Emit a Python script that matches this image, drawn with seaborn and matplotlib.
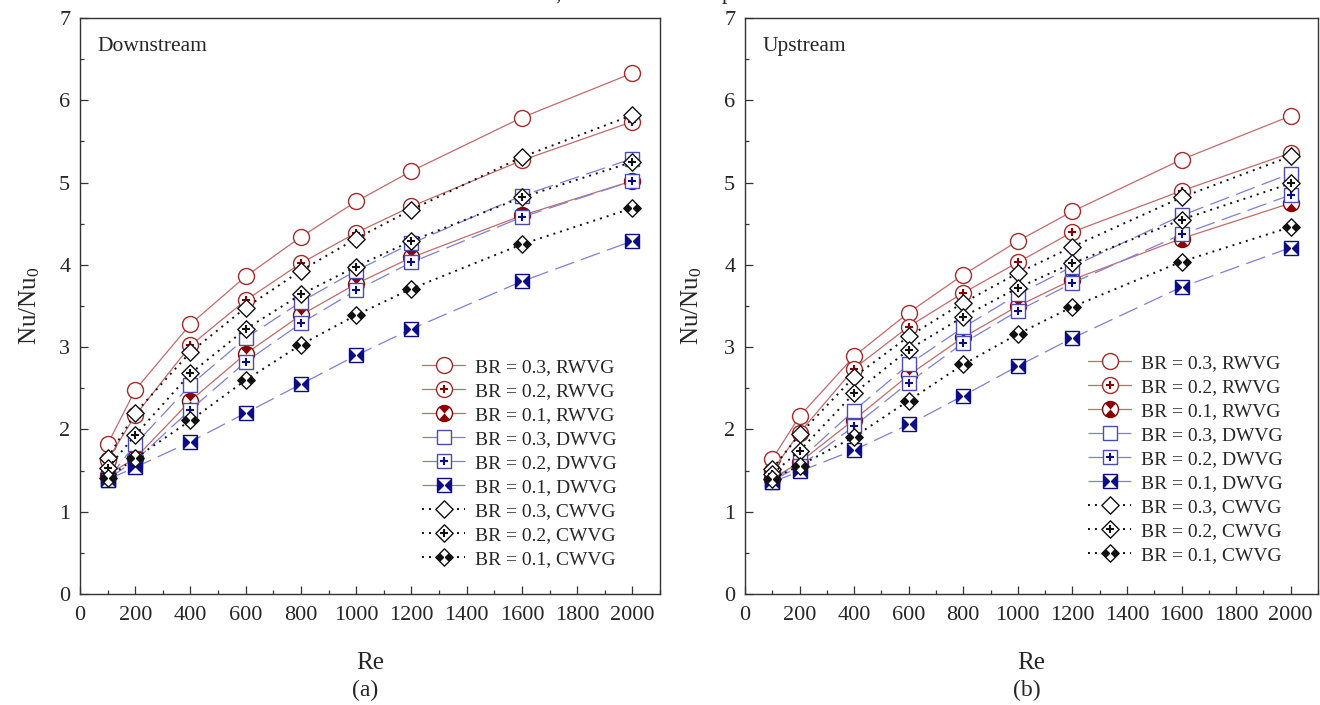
import numpy as np
import matplotlib
matplotlib.use("Agg")
import matplotlib.pyplot as plt
from matplotlib.path import Path
from matplotlib.lines import Line2D
from matplotlib.ticker import MultipleLocator
import seaborn as sns

# Reynolds numbers
re_vals = [100, 200, 400, 600, 800, 1000, 1200, 1600, 2000]

# Downstream Nu/Nu0
down_rwvg_03 = [1.82, 2.48, 3.28, 3.86, 4.34, 4.77, 5.14, 5.79, 6.33]
down_rwvg_02 = [1.63, 2.17, 3.02, 3.57, 4.02, 4.39, 4.71, 5.27, 5.74]
down_rwvg_01 = [1.45, 1.65, 2.35, 2.92, 3.39, 3.77, 4.09, 4.60, 5.02]
down_dwvg_03 = [1.39, 1.82, 2.54, 3.11, 3.55, 3.93, 4.26, 4.84, 5.29]
down_dwvg_02 = [1.40, 1.62, 2.24, 2.82, 3.29, 3.69, 4.03, 4.58, 5.02]
down_dwvg_01 = [1.39, 1.54, 1.85, 2.20, 2.55, 2.90, 3.22, 3.80, 4.29]
down_cwvg_03 = [1.65, 2.20, 2.94, 3.48, 3.93, 4.32, 4.67, 5.31, 5.82]
down_cwvg_02 = [1.53, 1.93, 2.68, 3.22, 3.64, 3.98, 4.29, 4.82, 5.25]
down_cwvg_01 = [1.41, 1.65, 2.11, 2.60, 3.03, 3.39, 3.71, 4.25, 4.69]

# Upstream Nu/Nu0
up_rwvg_03 = [1.64, 2.16, 2.89, 3.42, 3.88, 4.29, 4.65, 5.28, 5.81]
up_rwvg_02 = [1.50, 1.96, 2.74, 3.25, 3.66, 4.03, 4.40, 4.90, 5.36]
up_rwvg_01 = [1.40, 1.60, 2.12, 2.66, 3.12, 3.50, 3.82, 4.32, 4.75]
up_dwvg_03 = [1.36, 1.63, 2.23, 2.79, 3.24, 3.64, 3.98, 4.60, 5.11]
up_dwvg_02 = [1.38, 1.55, 2.04, 2.57, 3.05, 3.44, 3.78, 4.37, 4.85]
up_dwvg_01 = [1.36, 1.49, 1.75, 2.06, 2.41, 2.77, 3.11, 3.73, 4.21]
up_cwvg_03 = [1.52, 1.94, 2.64, 3.13, 3.54, 3.90, 4.22, 4.82, 5.32]
up_cwvg_02 = [1.46, 1.74, 2.44, 2.97, 3.37, 3.72, 4.02, 4.55, 4.99]
up_cwvg_01 = [1.40, 1.56, 1.91, 2.35, 2.79, 3.16, 3.49, 4.04, 4.46]

series_labels = ["BR = 0.3, RWVG", "BR = 0.2, RWVG", "BR = 0.1, RWVG",
                 "BR = 0.3, DWVG", "BR = 0.2, DWVG", "BR = 0.1, DWVG",
                 "BR = 0.3, CWVG", "BR = 0.2, CWVG", "BR = 0.1, CWVG"]
panel_titles = ["Downstream", "Upstream"]
panel_tags = ["(a)", "(b)"]

sns.set_style("ticks")
plt.rcParams["font.family"] = ["Liberation Serif", "DejaVu Serif"]
plt.rcParams["mathtext.fontset"] = "custom"
plt.rcParams["mathtext.rm"] = "Liberation Serif"
plt.rcParams["mathtext.it"] = "Liberation Serif:italic"
plt.rcParams["mathtext.default"] = "regular"


# ---- custom marker shapes -------------------------------------------------
def _poly(points):
    pts = list(points) + [points[0]]
    codes = [Path.MOVETO] + [Path.LINETO] * (len(points) - 1) + [Path.CLOSEPOLY]
    return pts, codes


def compound(*polys):
    verts, codes = [], []
    for p in polys:
        v, c = _poly(p)
        verts += v
        codes += c
    return Path(verts, codes)


def caps(a0, a1):
    ang = np.deg2rad(np.linspace(a0, a1, 20))
    return [(0.0, 0.0)] + [(np.cos(a), np.sin(a)) for a in ang]


CIRCLE_CAPS = compound(caps(48, 132), caps(228, 312))
SQUARE_BOWTIE = compound([(-1, 1), (-1, -1), (0, 0)], [(1, 1), (1, -1), (0, 0)])
DIAMOND = compound([(0, 1), (1, 0), (0, -1), (-1, 0)])
DIAMOND_BOWTIE = compound([(-1, 0), (-0.5, 0.5), (0, 0), (-0.5, -0.5)],
                          [(1, 0), (0.5, 0.5), (0, 0), (0.5, -0.5)])

RED_LINE, RED_EDGE, RED_FILL = "#c46a6a", "#a52a2a", "#8b0000"
BLUE_LINE, BLUE_EDGE, BLUE_FILL = "#7f7fd8", "#4b4bb8", "#0c0c8a"
BLACK = "#111111"

red_ls = "-"
blue_ls = (0, (16, 6))
black_ls = (0, (1, 2.6))

# style per series: line colour, line style, line width, outline marker, size,
# outline edge colour, inner decoration ('plus' / fill path / None), inner colour
styles = [
    dict(lc=RED_LINE, ls=red_ls, lw=0.9, m="o", ms=11.5, ec=RED_EDGE, inner=None, ic=None),
    dict(lc=RED_LINE, ls=red_ls, lw=0.9, m="o", ms=11.5, ec=RED_EDGE, inner="plus", ic=RED_FILL),
    dict(lc=RED_LINE, ls=red_ls, lw=0.9, m="o", ms=11.5, ec=RED_FILL, inner=CIRCLE_CAPS, ic=RED_FILL),
    dict(lc=BLUE_LINE, ls=blue_ls, lw=0.9, m="s", ms=9.5, ec=BLUE_EDGE, inner=None, ic=None),
    dict(lc=BLUE_LINE, ls=blue_ls, lw=0.9, m="s", ms=9.5, ec=BLUE_EDGE, inner="plus", ic=BLUE_FILL),
    dict(lc=BLUE_LINE, ls=blue_ls, lw=0.9, m="s", ms=9.5, ec=BLUE_FILL, inner=SQUARE_BOWTIE, ic=BLUE_FILL),
    dict(lc=BLACK, ls=black_ls, lw=1.4, m=DIAMOND, ms=12.5, ec=BLACK, inner=None, ic=None),
    dict(lc=BLACK, ls=black_ls, lw=1.4, m=DIAMOND, ms=12.5, ec=BLACK, inner="plus", ic=BLACK),
    dict(lc=BLACK, ls=black_ls, lw=1.4, m=DIAMOND, ms=12.5, ec=BLACK, inner=DIAMOND_BOWTIE, ic=BLACK),
]

panels = [
    [down_rwvg_03, down_rwvg_02, down_rwvg_01, down_dwvg_03, down_dwvg_02,
     down_dwvg_01, down_cwvg_03, down_cwvg_02, down_cwvg_01],
    [up_rwvg_03, up_rwvg_02, up_rwvg_01, up_dwvg_03, up_dwvg_02,
     up_dwvg_01, up_cwvg_03, up_cwvg_02, up_cwvg_01],
]


def inner_kwargs(st):
    if st["inner"] == "plus":
        return dict(marker="+", markersize=5.5, markeredgewidth=1.5,
                    markeredgecolor=st["ic"], markerfacecolor=st["ic"])
    return dict(marker=st["inner"], markersize=st["ms"], markeredgewidth=0,
                markeredgecolor="none", markerfacecolor=st["ic"])


def draw_series(ax, y, st):
    sns.lineplot(x=re_vals, y=y, ax=ax, color=st["lc"], linewidth=st["lw"],
                 linestyle=st["ls"], marker=st["m"], markersize=st["ms"],
                 markerfacecolor="white", markeredgecolor=st["ec"],
                 markeredgewidth=1.0, errorbar=None, sort=False, legend=False)
    ax.lines[-1].set_linestyle(st["ls"])
    if st["inner"] is not None:
        sns.lineplot(x=re_vals, y=y, ax=ax, linestyle="none", errorbar=None,
                     sort=False, legend=False, color=st["ic"], **inner_kwargs(st))


def legend_handle(st):
    outer = Line2D([], [], color=st["lc"], linewidth=st["lw"], linestyle=st["ls"],
                   marker=st["m"], markersize=st["ms"], markerfacecolor="white",
                   markeredgecolor=st["ec"], markeredgewidth=1.0)
    if st["inner"] is None:
        return outer
    inner = Line2D([], [], linestyle="none", **inner_kwargs(st))
    return (outer, inner)


W, H = 1320, 705
fig = plt.figure(figsize=(W / 100, H / 100), dpi=100)

axes_px = [(80, 580), (745, 573)]
legend_anchor = [(0.925, 0.045), (0.938, 0.052)]
ylabel_x = [-0.066, -0.072]

for i, (x0, w) in enumerate(axes_px):
    ax = fig.add_axes([x0 / W, 1 - 594 / H, w / W, 576 / H])
    for y, st in zip(panels[i], styles):
        draw_series(ax, y, st)

    ax.set_xlim(0, 2100)
    ax.set_ylim(0, 7)
    ax.xaxis.set_major_locator(MultipleLocator(200))
    ax.xaxis.set_minor_locator(MultipleLocator(100))
    ax.yaxis.set_major_locator(MultipleLocator(1))
    ax.yaxis.set_minor_locator(MultipleLocator(0.5))
    ax.tick_params(which="both", direction="in", top=False, right=False,
                   color="#333333", width=0.9)
    ax.tick_params(which="major", length=6, labelsize=16, pad=9)
    ax.tick_params(axis="y", which="major", pad=7)
    ax.tick_params(which="minor", length=3)
    for sp in ax.spines.values():
        sp.set_visible(True)
        sp.set_color("#333333")
        sp.set_linewidth(1.0)

    ax.set_xlabel("Re", fontsize=18)
    ax.xaxis.set_label_coords(0.5, -0.100)
    ax.set_ylabel(r"Nu/Nu$_0$", fontsize=18)
    ax.yaxis.set_label_coords(ylabel_x[i], 0.5)

    ax.text(0.03, 0.95, panel_titles[i], transform=ax.transAxes,
            fontsize=15.5, va="center", ha="left")

    handles = [legend_handle(st) for st in styles]
    ax.legend(handles, series_labels, loc="lower right",
              bbox_to_anchor=legend_anchor[i], frameon=False, fontsize=14,
              handlelength=2.2, handletextpad=0.5, labelspacing=0.33,
              borderpad=0, borderaxespad=0)

    fig.text((x0 + w / 2 - 5) / W, 1 - 690 / H, panel_tags[i], fontsize=17,
             ha="center", va="center")

# descenders of the caption line above the figure
fig.text(558 / W, 1.0, ",", fontsize=16, ha="center", va="baseline")
fig.text(727 / W, 1.0 + 1.5 / H, "p", fontsize=16, ha="center", va="baseline")

fig.savefig("out.png", dpi=100)
